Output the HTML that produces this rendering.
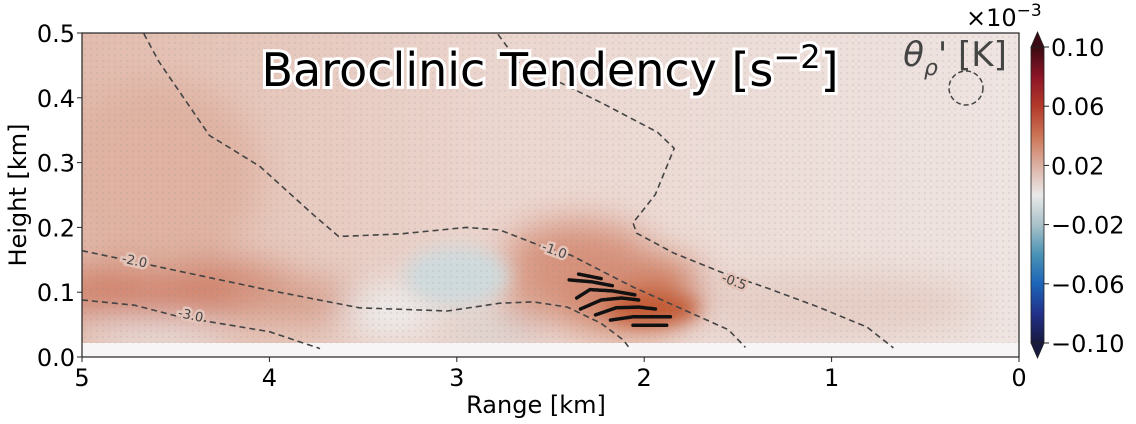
<!DOCTYPE html>
<html><head><meta charset="utf-8"><style>
html,body{margin:0;padding:0;background:#fff;width:1136px;height:424px;overflow:hidden}
svg text{font-family:"DejaVu Sans","Liberation Sans",sans-serif}
</style></head><body>
<svg id="chart" width="1136" height="424" viewBox="0 0 1136 424" xmlns="http://www.w3.org/2000/svg">
<defs>
<clipPath id="pc"><rect x="82" y="33" width="937" height="324"/></clipPath>
<filter id="bl" x="-50%" y="-50%" width="200%" height="200%"><feGaussianBlur stdDeviation="18"/></filter>
<filter id="bl2" x="-50%" y="-50%" width="200%" height="200%"><feGaussianBlur stdDeviation="9"/></filter>
<linearGradient id="bgG" x1="0" x2="1" y1="0" y2="0">
<stop offset="0" stop-color="#e2bcae"/><stop offset="0.45" stop-color="#ebd6cf"/><stop offset="1" stop-color="#eee4e1"/></linearGradient>
<linearGradient id="cbG" x1="0" x2="0" y1="0" y2="1">
<stop offset="0" stop-color="#3a0b12"/><stop offset="0.1" stop-color="#8c1426"/><stop offset="0.2" stop-color="#b23a2a"/>
<stop offset="0.3" stop-color="#cc7556"/><stop offset="0.4" stop-color="#dcb0a2"/><stop offset="0.5" stop-color="#e9e9e9"/>
<stop offset="0.6" stop-color="#a9c2c9"/><stop offset="0.7" stop-color="#4b93b5"/><stop offset="0.8" stop-color="#1c65b8"/>
<stop offset="0.9" stop-color="#22318a"/><stop offset="1" stop-color="#17193f"/></linearGradient>
<pattern id="dots" width="6" height="6" patternUnits="userSpaceOnUse"><circle cx="1" cy="1" r="0.7" fill="#888" opacity="0.35"/></pattern>
</defs>

<g clip-path="url(#pc)">
<rect x="82" y="33" width="937" height="324" fill="url(#bgG)"/>
<g id="blobs" filter="url(#bl)"></g>
<g id="blobs2" filter="url(#bl2)"></g>
<rect x="82" y="33" width="937" height="324" fill="url(#dots)"/>
<rect x="82" y="343" width="937" height="14" fill="#f7f5f5"/>
<g id="contours"></g>
<g id="streaks"></g>
</g>
<rect x="82" y="33" width="937" height="324" fill="none" stroke="#222" stroke-width="1.2"/>
<g id="axes"></g>

<text x="550" y="86" text-anchor="middle" font-size="46" fill="#000" stroke="#fff" stroke-width="6" paint-order="stroke">Baroclinic Tendency [s<tspan dy="-18" font-size="32">−2</tspan><tspan dy="18">]</tspan></text>
<text x="955" y="66" text-anchor="middle" font-size="34" fill="#444"><tspan font-style="italic">θ</tspan><tspan font-style="italic" font-size="22" dy="9">ρ</tspan><tspan dy="-9">' [K]</tspan></text>
<circle cx="966" cy="88" r="17" fill="none" stroke="#444" stroke-width="1.5" stroke-dasharray="5,3"/>

<text x="536" y="413" text-anchor="middle" font-size="24" fill="#000">Range [km]</text>
<text transform="translate(26,195) rotate(-90)" text-anchor="middle" font-size="24" fill="#000">Height [km]</text>

<g>
<polygon points="1031,47 1037.5,32 1044,47" fill="#3a0b12" stroke="#222" stroke-width="0.8"/>
<polygon points="1031,343 1037.5,358 1044,343" fill="#17193f" stroke="#222" stroke-width="0.8"/>
<rect x="1031" y="47" width="13" height="296" fill="url(#cbG)" stroke="#222" stroke-width="0.8"/>
<g id="cbticks"></g>
<text x="966" y="26" font-size="24" fill="#000">×10<tspan dy="-10" font-size="17">−3</tspan></text>
</g>
</svg>
<script>
const xTicks=[5,4,3,2,1,0];
const yTicks=[0.0,0.1,0.2,0.3,0.4,0.5];
const cbTicks=[0.10,0.06,0.02,-0.02,-0.06,-0.10];
const cbLabels=["0.10","0.06","0.02","−0.02","−0.06","−0.10"];
// field blobs
const blobR=[4.5,3.8,4.6,2.1,2.35,1.95,3.0,3.35,2.8,4.6,1.0,2.6];
const blobH=[0.10,0.085,0.28,0.10,0.15,0.075,0.125,0.07,0.04,0.035,0.08,0.10];
const blobRW=[0.7,0.45,0.55,0.45,0.4,0.25,0.28,0.25,0.25,0.4,0.8,0.15];
const blobRH=[0.05,0.03,0.15,0.06,0.06,0.025,0.045,0.04,0.01,0.02,0.05,0.05];
const blobC=["#d08068","#d69c88","#dfb2a2","#cd7757","#d6917a","#c35a36","#cfdadd","#eeeeee","#c3d1d6","#eeeeee","#e5cdc5","#d89a84"];
// contour lines
const cLevels=["-3.0","-2.0","-1.0","-0.5"];
const cR=[
 [5,4.72,4.48,4.29,4.0,3.73],
 [5,4.72,4.0,3.52,3.05,2.77,2.59,2.41,2.23,2.11,2.08],
 [4.67,4.59,4.32,4.05,3.76,3.63,3.3,2.95,2.77,2.54,2.39,2.06,1.79,1.55,1.46],
 [2.78,2.67,2.22,1.93,1.84,1.94,2.06,2.04,1.84,1.59,1.34,1.07,0.81,0.67]];
const cH=[
 [0.088,0.080,0.062,0.053,0.039,0.013],
 [0.164,0.147,0.103,0.076,0.071,0.083,0.085,0.077,0.052,0.026,0.014],
 [0.499,0.456,0.342,0.294,0.218,0.186,0.19,0.2,0.196,0.170,0.157,0.108,0.073,0.042,0.015],
 [0.498,0.455,0.391,0.347,0.322,0.251,0.207,0.191,0.160,0.131,0.106,0.077,0.046,0.014]];
const cLabR=[4.42,4.72,2.48,1.52];
const cLabH=[0.064,0.148,0.164,0.116];
const cLabA=[12,12,20,20];
// black streak traces
const sR=[[2.35,2.23],[2.4,2.28,2.17],[2.36,2.29,2.17,2.05],[2.34,2.23,2.12,2.03],[2.26,2.15,2.03,1.94],[2.18,2.06,1.86],[2.06,1.88]];
const sH=[[0.128,0.121],[0.119,0.116,0.110],[0.091,0.104,0.102,0.096],[0.074,0.088,0.091,0.088],[0.065,0.076,0.077,0.074],[0.057,0.062,0.062],[0.049,0.049]];

const X0=82,X1=1019,Y0=357,Y1=33;
const sx=r=>X0+(5-r)/5*(X1-X0);
const sy=h=>Y0-h/0.5*(Y0-Y1);
const kx=(X1-X0)/5, ky=(Y0-Y1)/0.5;
const NS="http://www.w3.org/2000/svg";
function mk(t,a,p){const e=document.createElementNS(NS,t);for(const k in a)e.setAttribute(k,a[k]);p.appendChild(e);return e;}

const bg=document.getElementById('blobs'), bg2=document.getElementById('blobs2');
for(let i=0;i<blobR.length;i++){
 const e=mk('ellipse',{cx:sx(blobR[i]),cy:sy(blobH[i]),rx:blobRW[i]*kx,ry:blobRH[i]*ky,fill:blobC[i]},i==5||i==6?bg2:bg);
 
 
}
const cg=document.getElementById('contours');
for(let i=0;i<cR.length;i++){
 const d=cR[i].map((r,j)=>(j?'L':'M')+sx(r).toFixed(1)+','+sy(cH[i][j]).toFixed(1)).join(' ');
 const p=mk('path',{d:d,fill:'none',stroke:'#444','stroke-width':1.6,'stroke-dasharray':'6,4'},cg);
 
 
 const lx=sx(cLabR[i]),ly=sy(cLabH[i]);
 const t=mk('text',{x:lx,y:ly+4,'font-size':13,fill:'#444','text-anchor':'middle',transform:'rotate('+cLabA[i]+' '+lx+' '+ly+')',stroke:'#e4c4b8','stroke-width':5,'paint-order':'stroke'},cg);
 t.textContent=cLevels[i];
 
 
}
const sg=document.getElementById('streaks');
for(let i=0;i<sR.length;i++){
 const d=sR[i].map((r,j)=>(j?'L':'M')+sx(r).toFixed(1)+','+sy(sH[i][j]).toFixed(1)).join(' ');
 const p=mk('path',{d:d,fill:'none',stroke:'#111','stroke-width':3.5,'stroke-dasharray':'2,1','stroke-linecap':'round'},sg);
 
 
}
const ax=document.getElementById('axes');
xTicks.forEach(v=>{
 const x=sx(v);
 const l=mk('line',{x1:x,x2:x,y1:Y0,y2:Y0+5,stroke:'#222'},ax);
 
 
 const t=mk('text',{x:x,y:386,'font-size':24,'text-anchor':'middle',fill:'#000'},ax);
 t.textContent=v;
 
 
});
yTicks.forEach(v=>{
 const y=sy(v);
 const l=mk('line',{x1:X0-5,x2:X0,y1:y,y2:y,stroke:'#222'},ax);
 
 
 const t=mk('text',{x:75,y:y+9,'font-size':24,'text-anchor':'end',fill:'#000'},ax);
 t.textContent=v.toFixed(1);
 
 
});
const cb=document.getElementById('cbticks');
cbTicks.forEach((v,i)=>{
 const y=47+(0.10-v)/0.20*296;
 const l=mk('line',{x1:1044,x2:1049,y1:y,y2:y,stroke:'#222'},cb);
 
 
 const t=mk('text',{x:1051,y:y+9,'font-size':24,fill:'#000'},cb);
 t.textContent=cbLabels[i];
 
 
});
</script>
</body></html>
